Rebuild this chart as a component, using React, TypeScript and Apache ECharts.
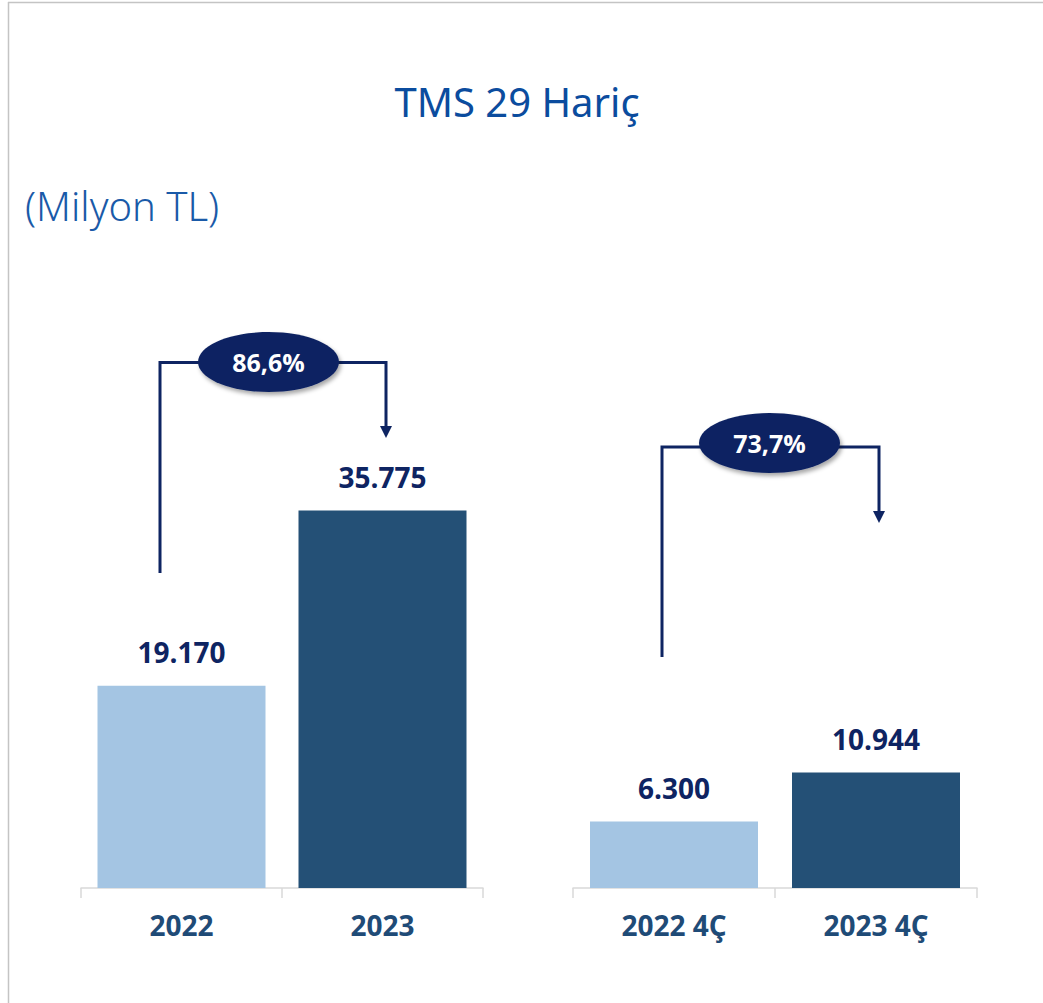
import React, { useEffect, useRef } from 'react';
import * as echarts from 'echarts';

const annualCategories = ['2022', '2023'];
const annualValues = [19170, 35775];
const quarterCategories = ['2022 4Ç', '2023 4Ç'];
const quarterValues = [6300, 10944];
const barColors = ['#a4c5e3', '#245076'];

const titleText = 'TMS 29 Hariç';
const unitText = '(Milyon TL)';

const NAVY = '#0e2462';
const AXIS_LABEL = '#1f4b77';

const fmt = (v: number) => String(v).replace(/\B(?=(\d{3})+(?!\d))/g, '.');
const pct = (a: number, b: number) => ((b / a - 1) * 100).toFixed(1).replace('.', ',') + '%';

function annotation(
  leftX: number, bottomY: number, lineY: number,
  cx: number, cy: number, rightX: number, tipY: number, text: string
): any[] {
  return [
    {
      type: 'polyline', z: 10,
      shape: { points: [[leftX, bottomY], [leftX, lineY], [cx, lineY]] },
      style: { stroke: NAVY, lineWidth: 3, fill: null },
    },
    {
      type: 'polyline', z: 10,
      shape: { points: [[cx, lineY], [rightX, lineY], [rightX, tipY - 10]] },
      style: { stroke: NAVY, lineWidth: 3, fill: null },
    },
    {
      type: 'polygon', z: 10,
      shape: { points: [[rightX - 6, tipY - 12], [rightX + 6, tipY - 12], [rightX, tipY]] },
      style: { fill: NAVY },
    },
    {
      type: 'ellipse', z: 11,
      shape: { cx, cy, rx: 70.5, ry: 30 },
      style: {
        fill: NAVY,
        shadowBlur: 4, shadowOffsetX: 2, shadowOffsetY: 3, shadowColor: 'rgba(0,0,0,0.35)',
      },
    },
    {
      type: 'text', z: 12, x: cx, y: cy,
      style: {
        text, fill: '#ffffff', fontSize: 25, fontWeight: 'bold', fontFamily: 'Open Sans',
        align: 'center', verticalAlign: 'middle',
      },
    },
  ];
}

function barSeries(idx: number, values: number[]) {
  return {
    type: 'bar',
    xAxisIndex: idx,
    yAxisIndex: idx,
    barWidth: 168,
    data: values.map((v, i) => ({ value: v, itemStyle: { color: barColors[i] } })),
    label: {
      show: true,
      position: 'top',
      distance: 20,
      formatter: (p: any) => fmt(p.value),
      color: NAVY,
      fontSize: 28,
      fontWeight: 'bold',
      fontFamily: 'Open Sans',
    },
  };
}

function xAxis(idx: number, cats: string[]) {
  return {
    type: 'category',
    gridIndex: idx,
    data: cats,
    axisLine: { lineStyle: { color: '#d9d9d9', width: 1.5 } },
    axisTick: { show: true, length: 10, lineStyle: { color: '#d9d9d9', width: 1.5 } },
    axisLabel: {
      color: AXIS_LABEL, fontSize: 28, fontWeight: 'bold', fontFamily: 'Open Sans', margin: 23,
    },
  };
}

function yAxis(idx: number) {
  return { type: 'value', gridIndex: idx, min: 0, max: 40000, show: false, splitLine: { show: false } };
}

export default function App() {
  const ref = useRef<HTMLDivElement>(null);
  useEffect(() => {
    document.body.style.margin = '0';
    const chart = echarts.init(ref.current!, undefined, { renderer: 'svg' });
    chart.setOption({
      animation: false,
      backgroundColor: '#ffffff',
      grid: [
        { left: 81, top: 466, width: 402, height: 422 },
        { left: 573, top: 466, width: 404, height: 422 },
      ],
      xAxis: [xAxis(0, annualCategories), xAxis(1, quarterCategories)],
      yAxis: [yAxis(0), yAxis(1)],
      series: [barSeries(0, annualValues), barSeries(1, quarterValues)],
      graphic: [
        {
          type: 'line', shape: { x1: 8, y1: 2.5, x2: 1043, y2: 2.5 },
          style: { stroke: '#c4c4c4', lineWidth: 1.5 },
        },
        {
          type: 'line', shape: { x1: 8.5, y1: 2, x2: 8.5, y2: 1003 },
          style: { stroke: '#c4c4c4', lineWidth: 1.5 },
        },
        {
          type: 'text', x: 517, y: 101,
          style: {
            text: titleText, fill: '#0b4c9e', fontSize: 40, fontWeight: 'normal', fontFamily: 'Noto Sans',
            align: 'center', verticalAlign: 'middle',
          },
        },
        {
          type: 'text', x: 25, y: 205,
          style: {
            text: unitText, fill: '#1a5aa8', fontSize: 40, fontWeight: 300, fontFamily: 'Noto Sans',
            align: 'left', verticalAlign: 'middle',
          },
        },
        ...annotation(160, 573, 362.5, 268.5, 362, 386, 438, pct(annualValues[0], annualValues[1])),
        ...annotation(662, 657, 447, 769.5, 443, 879, 523, pct(quarterValues[0], quarterValues[1])),
      ],
    });
    return () => chart.dispose();
  }, []);
  return <div ref={ref} style={{ width: 1043, height: 1003 }} />;
}
